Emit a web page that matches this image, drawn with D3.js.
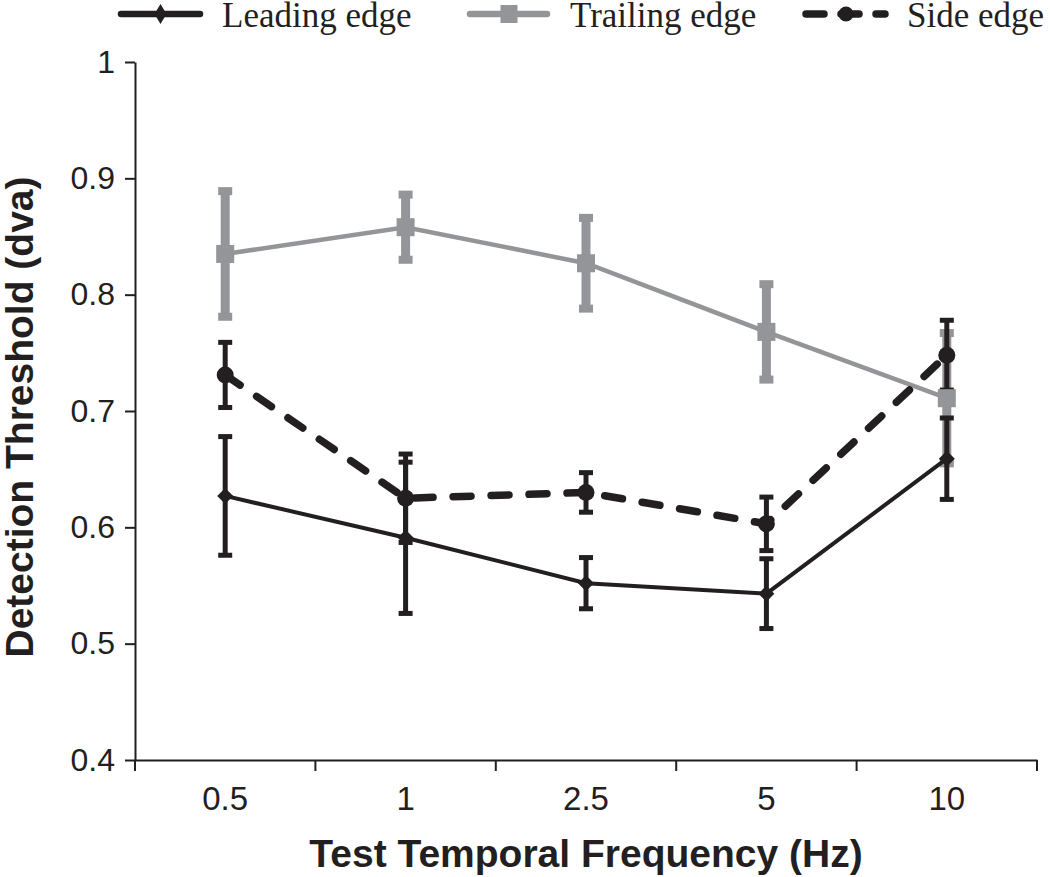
<!DOCTYPE html>
<html>
<head>
<meta charset="utf-8">
<script src="https://cdn.jsdelivr.net/npm/d3@7"></script>
<style>
  html, body { margin: 0; padding: 0; background: #fff; }
  svg { display: block; }
</style>
</head>
<body>
<script>
// ---- data ----
const categories = ["0.5", "1", "2.5", "5", "10"];
const leadingMean  = [0.627, 0.591, 0.552, 0.543, 0.659];
const leadingErr   = [0.051, 0.065, 0.022, 0.030, 0.035];
const trailingMean = [0.835, 0.858, 0.827, 0.768, 0.711];
const trailingErr  = [0.054, 0.028, 0.039, 0.041, 0.056];
const sideMean     = [0.731, 0.625, 0.630, 0.603, 0.748];
const sideErr      = [0.028, 0.038, 0.017, 0.023, 0.030];
const yTicks = [0.4, 0.5, 0.6, 0.7, 0.8, 0.9, 1];
const seriesNames = ["Leading edge", "Trailing edge", "Side edge"];

(function () {
const BLACK = "#231f20", GRAY = "#939598";
const W = 1050, H = 877;
const mLeft = 135, mRight = 1037, mTop = 62, mBottom = 760;

const svg = d3.select("body").append("svg").attr("width", W).attr("height", H);

const x = d3.scaleBand().domain(categories).range([mLeft, mRight]).padding(0);
const y = d3.scaleLinear().domain([0.4, 1]).range([mBottom, mTop]);
const cx = c => x(c) + x.bandwidth() / 2;

// ---- axes ----
const yAxis = svg.append("g").attr("transform", `translate(${mLeft},0)`)
  .call(d3.axisLeft(y).tickValues(yTicks).tickSize(10).tickSizeOuter(0).tickPadding(10)
    .tickFormat(d => d === 1 ? "1" : d3.format(".1f")(d)));
yAxis.select(".domain").attr("stroke", BLACK).attr("stroke-width", 2);
yAxis.selectAll(".tick line").attr("stroke", BLACK).attr("stroke-width", 2);
yAxis.selectAll(".tick text").attr("font-family", "Liberation Sans, Arial, sans-serif")
  .attr("font-size", 32).attr("fill", BLACK);

const xAxis = svg.append("g").attr("transform", `translate(0,${mBottom})`)
  .call(d3.axisBottom(x).tickSize(0).tickSizeOuter(0).tickPadding(27));
xAxis.select(".domain").attr("stroke", BLACK).attr("stroke-width", 2);
xAxis.selectAll(".tick text").attr("font-family", "Liberation Sans, Arial, sans-serif")
  .attr("font-size", 33).attr("fill", BLACK);
const bounds = categories.map(c => x(c)).concat([x(categories[categories.length - 1]) + x.bandwidth()]);
xAxis.selectAll("line.bound").data(bounds).join("line").attr("class", "bound")
  .attr("x1", d => d).attr("x2", d => d).attr("y1", 0).attr("y2", 11)
  .attr("stroke", BLACK).attr("stroke-width", 2);

svg.append("text").attr("x", (mLeft + mRight) / 2).attr("y", 867)
  .attr("text-anchor", "middle").attr("font-family", "Liberation Sans, Arial, sans-serif")
  .attr("font-weight", "bold").attr("font-size", 39).attr("fill", BLACK)
  .text("Test Temporal Frequency (Hz)");
svg.append("text").attr("transform", `translate(33,${(mTop + mBottom) / 2 + 6}) rotate(-90)`)
  .attr("text-anchor", "middle").attr("font-family", "Liberation Sans, Arial, sans-serif")
  .attr("font-weight", "bold").attr("font-size", 39).attr("fill", BLACK)
  .text("Detection Threshold (dva)");

// ---- series ----
const mk = (mean, err) => categories.map((c, i) => ({ c, v: mean[i], e: err[i] }));
const lead = mk(leadingMean, leadingErr);
const trail = mk(trailingMean, trailingErr);
const side = mk(sideMean, sideErr);

function errBars(data, color, w, capW, capH) {
  const g = svg.append("g");
  g.selectAll("line.v").data(data).join("line")
    .attr("x1", d => cx(d.c)).attr("x2", d => cx(d.c))
    .attr("y1", d => y(d.v + d.e)).attr("y2", d => y(d.v - d.e))
    .attr("stroke", color).attr("stroke-width", w);
  [1, -1].forEach(s => {
    g.append("g").selectAll("rect").data(data).join("rect")
      .attr("x", d => cx(d.c) - capW / 2)
      .attr("y", d => y(d.v + s * d.e) - capH / 2)
      .attr("width", capW).attr("height", capH).attr("fill", color);
  });
}
errBars(trail, GRAY, 9, 14, 8);
errBars(side, BLACK, 5, 14, 5);
errBars(lead, BLACK, 5, 14, 5);

const line = d3.line().x(d => cx(d.c)).y(d => y(d.v));
svg.append("path").datum(trail).attr("d", line).attr("fill", "none")
  .attr("stroke", GRAY).attr("stroke-width", 4.5);
svg.append("path").datum(side).attr("d", line).attr("fill", "none")
  .attr("stroke", BLACK).attr("stroke-width", 7.5).attr("stroke-linecap", "round")
  .attr("stroke-dasharray", "18,20");
svg.append("path").datum(lead).attr("d", line).attr("fill", "none")
  .attr("stroke", BLACK).attr("stroke-width", 4);

svg.append("g").selectAll("rect").data(trail).join("rect")
  .attr("x", d => cx(d.c) - 9).attr("y", d => y(d.v) - 9)
  .attr("width", 18).attr("height", 18).attr("fill", GRAY);
svg.append("g").selectAll("circle").data(side).join("circle")
  .attr("cx", d => cx(d.c)).attr("cy", d => y(d.v)).attr("r", 8.5).attr("fill", BLACK);
svg.append("g").selectAll("path").data(lead).join("path")
  .attr("d", d => { const X = cx(d.c), Y = y(d.v); return `M${X},${Y-8}L${X+8},${Y}L${X},${Y+8}L${X-8},${Y}Z`; })
  .attr("fill", BLACK);

// ---- legend ----
const legendItems = [
  { name: seriesNames[0], x1: 118, x2: 203, text: 222, color: BLACK, kind: "diamond" },
  { name: seriesNames[1], x1: 467, x2: 550, text: 570, color: GRAY, kind: "square" },
  { name: seriesNames[2], x1: 802, x2: 888, text: 907, color: BLACK, kind: "circle" }
];
const ly = 14;
const lg = svg.append("g");
legendItems.forEach(it => {
  const l = lg.append("line").attr("x1", it.x1 + 3).attr("x2", it.x2 - 3).attr("y1", ly).attr("y2", ly)
    .attr("stroke", it.color).attr("stroke-width", 6.5).attr("stroke-linecap", "round");
  const mx = (it.x1 + it.x2) / 2;
  if (it.kind === "circle") {
    l.attr("stroke-width", 7.5).attr("stroke-dasharray", "18,17").attr("x1", it.x1 + 4);
    lg.append("circle").attr("cx", it.x1 + 44).attr("cy", ly).attr("r", 7.5).attr("fill", it.color);
  } else if (it.kind === "square") {
    lg.append("rect").attr("x", mx - 8).attr("y", ly - 9).attr("width", 17).attr("height", 18).attr("fill", it.color);
  } else {
    lg.append("path").attr("d", `M${mx},${ly-10}L${mx+6},${ly}L${mx},${ly+10}L${mx-6},${ly}Z`).attr("fill", it.color);
  }
  lg.append("text").attr("x", it.text).attr("y", 27)
    .attr("font-family", "Liberation Serif, Times New Roman, serif").attr("font-size", 35)
    .attr("fill", BLACK).text(it.name);
});
})();
</script>
</body>
</html>
